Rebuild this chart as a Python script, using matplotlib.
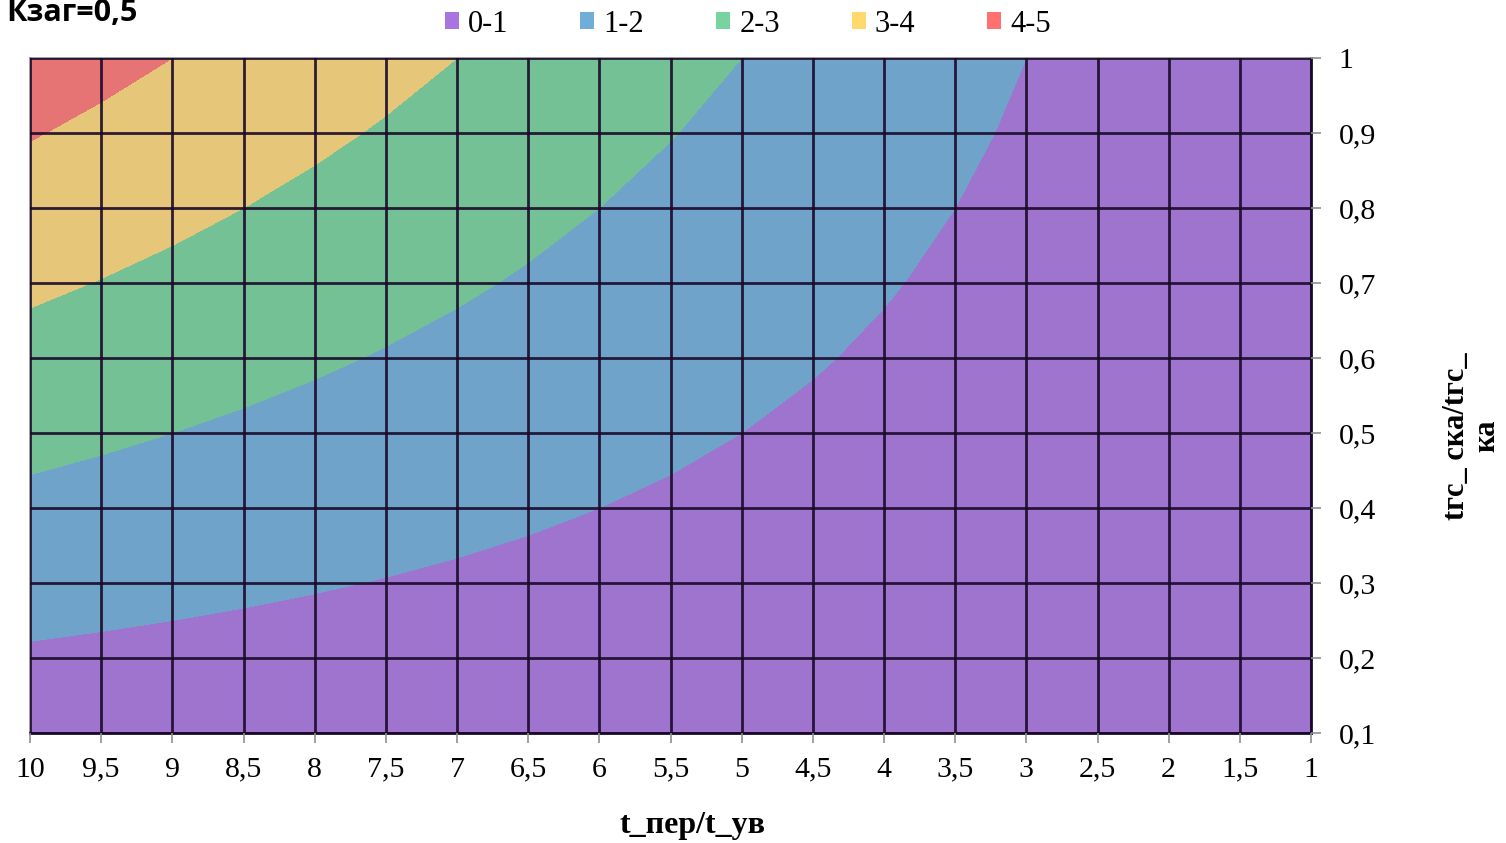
import numpy as np
import matplotlib
matplotlib.use("Agg")
import matplotlib.pyplot as plt
from matplotlib.patches import Patch

# x categories (t_пер/t_ув), shown from 10 down to 1
x_vals = [10, 9.5, 9, 8.5, 8, 7.5, 7, 6.5, 6, 5.5, 5, 4.5, 4, 3.5, 3, 2.5, 2, 1.5, 1]
# y categories (tгс_ска/tгс_ка)
y_vals = [0.1, 0.2, 0.3, 0.4, 0.5, 0.6, 0.7, 0.8, 0.9, 1.0]

# surface values, one row per y
z_rows = [
    [0.45, 0.425, 0.4, 0.375, 0.35, 0.325, 0.3, 0.275, 0.25, 0.225, 0.2, 0.175, 0.15, 0.125, 0.1, 0.075, 0.05, 0.025, 0],
    [0.9, 0.85, 0.8, 0.75, 0.7, 0.65, 0.6, 0.55, 0.5, 0.45, 0.4, 0.35, 0.3, 0.25, 0.2, 0.15, 0.1, 0.05, 0],
    [1.35, 1.275, 1.2, 1.125, 1.05, 0.975, 0.9, 0.825, 0.75, 0.675, 0.6, 0.525, 0.45, 0.375, 0.3, 0.225, 0.15, 0.075, 0],
    [1.8, 1.7, 1.6, 1.5, 1.4, 1.3, 1.2, 1.1, 1.0, 0.9, 0.8, 0.7, 0.6, 0.5, 0.4, 0.3, 0.2, 0.1, 0],
    [2.25, 2.125, 2.0, 1.875, 1.75, 1.625, 1.5, 1.375, 1.25, 1.125, 1.0, 0.875, 0.75, 0.625, 0.5, 0.375, 0.25, 0.125, 0],
    [2.7, 2.55, 2.4, 2.25, 2.1, 1.95, 1.8, 1.65, 1.5, 1.35, 1.2, 1.05, 0.9, 0.75, 0.6, 0.45, 0.3, 0.15, 0],
    [3.15, 2.975, 2.8, 2.625, 2.45, 2.275, 2.1, 1.925, 1.75, 1.575, 1.4, 1.225, 1.05, 0.875, 0.7, 0.525, 0.35, 0.175, 0],
    [3.6, 3.4, 3.2, 3.0, 2.8, 2.6, 2.4, 2.2, 2.0, 1.8, 1.6, 1.4, 1.2, 1.0, 0.8, 0.6, 0.4, 0.2, 0],
    [4.05, 3.825, 3.6, 3.375, 3.15, 2.925, 2.7, 2.475, 2.25, 2.025, 1.8, 1.575, 1.35, 1.125, 0.9, 0.675, 0.45, 0.225, 0],
    [4.5, 4.25, 4.0, 3.75, 3.5, 3.25, 3.0, 2.75, 2.5, 2.25, 2.0, 1.75, 1.5, 1.25, 1.0, 0.75, 0.5, 0.25, 0],
]

levels = [0, 1, 2, 3, 4, 5]
band_labels = ["0-1", "1-2", "2-3", "3-4", "4-5"]
fill_colors = ["#9e74cf", "#70a3c9", "#73c194", "#e6c679", "#e67474"]
legend_colors = ["#a874e0", "#70aed8", "#77d49e", "#ffd86e", "#ff7070"]

fig = plt.figure(figsize=(15.06, 8.43), dpi=100)
ax = fig.add_axes([30 / 1506, 1 - 733 / 843, 1281 / 1506, 675 / 843])

X, Y = np.meshgrid(x_vals, y_vals)
Z = np.array(z_rows)
ax.contourf(X, Y, Z, levels=levels, colors=fill_colors)

ax.set_xlim(10, 1)
ax.set_ylim(0.1, 1.0)
ax.set_xticks(x_vals)
ax.set_yticks(y_vals)

def comma(v):
    return ("%g" % v).replace(".", ",")

ax.set_xticklabels([comma(v) for v in x_vals], family="Liberation Serif", fontsize=21.5)
ax.set_yticklabels([comma(v) for v in y_vals], family="Liberation Serif", fontsize=21.5)
ax.yaxis.tick_right()
ax.tick_params(axis="both", direction="out", length=7, width=1.2, color="#909090")
ax.tick_params(axis="x", pad=10)
ax.tick_params(axis="y", pad=13)

ax.grid(True, color="#1a0a2a", linewidth=2.0, alpha=0.9)
ax.set_axisbelow(False)
for side in ["top", "left"]:
    ax.spines[side].set_color("#909090")
    ax.spines[side].set_linewidth(1.2)
for side in ["bottom", "right"]:
    ax.spines[side].set_color("#1a0a2a")
    ax.spines[side].set_linewidth(2)

fig.text(693 / 1506, 1 - 826 / 843, "t_пер/t_ув", family="Liberation Serif",
         fontsize=23, fontweight="bold", ha="center", va="center")
fig.text(1472 / 1506, 1 - 436 / 843, "tгс_ ска/tгс_\nка", family="Liberation Serif",
         fontsize=22, fontweight="bold", ha="center", va="center", rotation=90,
         linespacing=1.05)
fig.text(6 / 1506, 1 - 21 / 843, "Кзаг=0,5", family="Open Sans", fontsize=22,
         fontweight="bold", ha="left", va="baseline")

handles = [Patch(facecolor=c, edgecolor="none") for c in legend_colors]
fig.legend(handles, band_labels, loc="center", bbox_to_anchor=(748 / 1506, 1 - 24 / 843),
           ncol=5, frameon=False, prop={"family": "Liberation Serif", "size": 22},
           handlelength=0.46, handleheight=0.46, handletextpad=0.3, columnspacing=2.35)

fig.savefig("out.png", dpi=100)
